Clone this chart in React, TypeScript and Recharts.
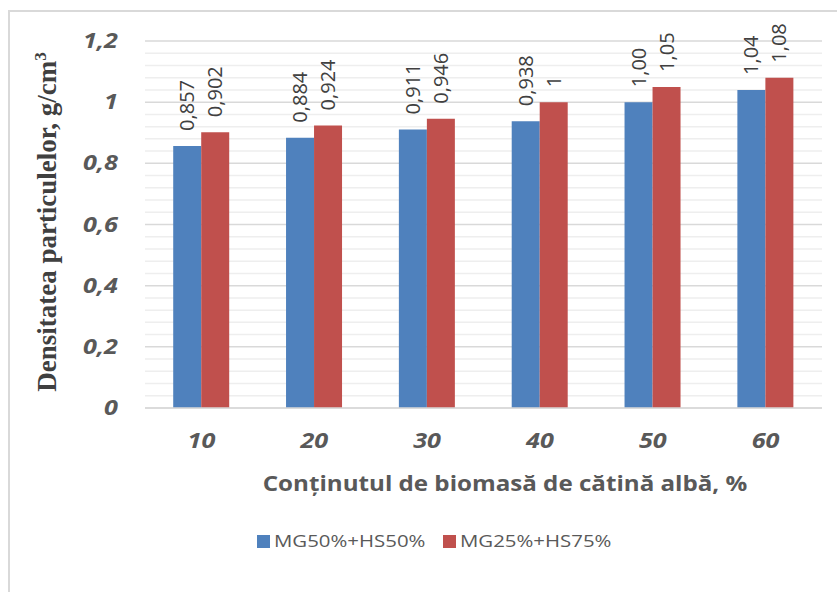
import React from 'react';
import { BarChart, Bar, XAxis, YAxis, CartesianGrid, LabelList } from 'recharts';

const categories = ['10', '20', '30', '40', '50', '60'];
const seriesA = [0.857, 0.884, 0.911, 0.938, 1.0, 1.04];
const seriesB = [0.902, 0.924, 0.946, 1.0, 1.05, 1.08];
const labelsA = ['0,857', '0,884', '0,911', '0,938', '1,00', '1,04'];
const labelsB = ['0,902', '0,924', '0,946', '1', '1,05', '1,08'];
const seriesNames = ['MG50%+HS50%', 'MG25%+HS75%'];
const yTicks = [0, 0.2, 0.4, 0.6, 0.8, 1, 1.2];
const yTickLabels = ['0', '0,2', '0,4', '0,6', '0,8', '1', '1,2'];
const gridValues = [0, 0.04, 0.08, 0.12, 0.16, 0.2, 0.24, 0.28, 0.32, 0.36, 0.4, 0.44, 0.48, 0.52, 0.56, 0.6, 0.64, 0.68, 0.72, 0.76, 0.8, 0.84, 0.88, 0.92, 0.96, 1, 1.04, 1.08, 1.12, 1.16, 1.2];
const xTitle = 'Conținutul de biomasă de cătină albă, %';
const yTitle = 'Densitatea particulelor, g/cm';

const colors = ['#4f81bd', '#c0504d'];
const SANS = '"Open Sans", "Noto Sans", sans-serif';

const TOP = 41;
const PLOT_H = 367;
const Y_MAX = 1.2;

const data = categories.map((c, i) => ({ cat: c, a: seriesA[i], b: seriesB[i], la: labelsA[i], lb: labelsB[i] }));

const makeLabel = (labels: string[]) => (props: any) => {
  const { x, y, width, index } = props;
  const cx = Number(x) + Number(width) / 2 + 7;
  const ty = Number(y) - 15;
  return (
    <text
      x={cx}
      y={ty}
      transform={`rotate(-90 ${cx} ${ty})`}
      textAnchor="start"
      fontFamily={SANS}
      fontSize={20}
      fill="#404040"
    >
      {labels[index]}
    </text>
  );
};

const YTick = (props: any) => {
  const { y, payload } = props;
  const idx = yTicks.findIndex((t) => Math.abs(t - payload.value) < 1e-6);
  if (idx < 0) return <g />;
  return (
    <text transform={`translate(118 ${Number(y) + 7}) scale(1.2 1)`} x={0} y={0} textAnchor="end" fontFamily={SANS} fontWeight="bold" fontStyle="italic" fontSize={21} fill="#595959">
      {yTickLabels[idx]}
    </text>
  );
};

const XTick = (props: any) => {
  const { x, payload } = props;
  return (
    <text transform={`translate(${Number(x)} 448) scale(1.2 1)`} x={0} y={0} textAnchor="middle" fontFamily={SANS} fontWeight="bold" fontStyle="italic" fontSize={21} fill="#595959">
      {payload.value}
    </text>
  );
};

const GridLine = (props: any) => {
  const { x1, x2, y1, y2 } = props;
  const v = ((TOP + PLOT_H - Number(y1)) / PLOT_H) * Y_MAX;
  const major = yTicks.some((t) => Math.abs(t - v) < 0.01);
  return <line x1={x1} x2={x2} y1={y1} y2={y2} stroke={major ? '#d9d9d9' : '#eeeeee'} strokeWidth={1.5} />;
};

export default function App() {
  return (
    <div style={{ position: 'absolute', left: 0, top: 0, width: 837, height: 592, overflow: 'hidden', background: '#fff' }}>
      <div style={{ position: 'absolute', left: 8, top: 10, width: 860, height: 620, border: '2px solid #d9d9d9', boxSizing: 'border-box' }} />
      <div style={{ position: 'absolute', left: 0, top: 0 }}>
        <BarChart width={837} height={592} data={data} margin={{ top: TOP, right: 15, bottom: 154, left: 0 }} barCategoryGap="25%" barGap={0}>
          <CartesianGrid vertical={false} horizontal={(p: any) => <GridLine key={p.key} {...p} />} />
          <YAxis width={145} domain={[0, Y_MAX]} ticks={gridValues} interval={0} axisLine={false} tickLine={false} tick={<YTick />} />
          <XAxis dataKey="cat" height={30} axisLine={{ stroke: '#d9d9d9', strokeWidth: 1.5 }} tickLine={false} tick={<XTick />} />
          <Bar dataKey="a" fill={colors[0]} isAnimationActive={false}>
            <LabelList dataKey="la" content={makeLabel(labelsA)} />
          </Bar>
          <Bar dataKey="b" fill={colors[1]} isAnimationActive={false}>
            <LabelList dataKey="lb" content={makeLabel(labelsB)} />
          </Bar>
        </BarChart>
      </div>
      <div style={{ position: 'absolute', left: 47, top: 222, width: 0, height: 0 }}>
        <div style={{ position: 'absolute', transform: 'translate(-50%, -50%) rotate(-90deg)', whiteSpace: 'nowrap', fontFamily: '"Liberation Serif", "Times New Roman", serif', fontWeight: 'bold', fontSize: 27, color: '#404040' }}>
          {yTitle}<sup style={{ fontSize: 17 }}>3</sup>
        </div>
      </div>
      <div style={{ position: 'absolute', left: 505, top: 469, width: 0, height: 0 }}>
        <div style={{ position: 'absolute', transform: 'translateX(-50%) scaleX(1.15)', whiteSpace: 'nowrap', fontFamily: SANS, fontWeight: 'bold', fontSize: 21, color: '#595959' }}>
          {xTitle}
        </div>
      </div>
      <div style={{ position: 'absolute', left: 257, top: 535, width: 13, height: 13, background: colors[0] }} />
      <div style={{ position: 'absolute', left: 274, top: 529, whiteSpace: 'nowrap', transform: 'scaleX(1.2)', transformOrigin: 'left center', fontFamily: SANS, fontSize: 17, color: '#595959' }}>{seriesNames[0]}</div>
      <div style={{ position: 'absolute', left: 443, top: 535, width: 13, height: 13, background: colors[1] }} />
      <div style={{ position: 'absolute', left: 460, top: 529, whiteSpace: 'nowrap', transform: 'scaleX(1.2)', transformOrigin: 'left center', fontFamily: SANS, fontSize: 17, color: '#595959' }}>{seriesNames[1]}</div>
    </div>
  );
}
